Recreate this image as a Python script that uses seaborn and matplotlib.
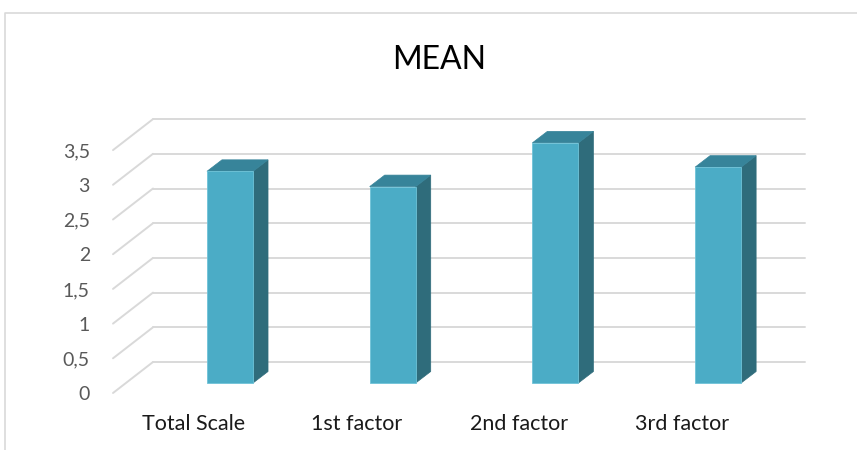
import matplotlib
matplotlib.use("Agg")
import matplotlib.pyplot as plt
import pandas as pd
import seaborn as sns
from matplotlib.patches import Polygon
from matplotlib.lines import Line2D
from matplotlib.transforms import IdentityTransform, ScaledTranslation

# ---- data -------------------------------------------------------------
categories = ["Total Scale", "1st factor", "2nd factor", "3rd factor"]
means = [3.05, 2.83, 3.46, 3.11]
y_ticks = [0, 0.5, 1, 1.5, 2, 2.5, 3, 3.5]
y_tick_labels = ["0", "0,5", "1", "1,5", "2", "2,5", "3", "3,5"]
title = "MEAN"

# ---- style ------------------------------------------------------------
FRONT = "#4BACC6"
SIDE = "#2F6C7B"
TOP = "#37849A"
GRID = "#D9D9D9"

sns.set_theme(style="white")
plt.rcParams["font.family"] = ["Lato", "DejaVu Sans"]

W, H, DPI = 857, 450, 100
fig = plt.figure(figsize=(W / DPI, H / DPI), dpi=DPI)
fig.patch.set_facecolor("white")

# plane of the bar fronts, in pixels measured from the top-left corner
X0_PX, X_UNIT = 230.0, 162.7     # category 0 centre, px per category
Y0_PX, Y_UNIT = 383.0, 69.4      # value 0 baseline, px per unit
left, right, top, bottom = 108, 808, 112, 397

ax = fig.add_axes([left / W, 1 - bottom / H, (right - left) / W, (bottom - top) / H])
ax.set_zorder(5)
ax.patch.set_alpha(0)

df = pd.DataFrame({"category": categories, "mean": means})
sns.barplot(data=df, x="category", y="mean", color=FRONT, saturation=1,
            width=0.283, edgecolor="#6FC3D8", linewidth=0.6, ax=ax, zorder=4)

ax.set_xlim((left - X0_PX) / X_UNIT, (right - X0_PX) / X_UNIT)
ax.set_ylim((Y0_PX - bottom) / Y_UNIT, (Y0_PX - top) / Y_UNIT)
ax.set_xlabel("")
ax.set_ylabel("")
for s in ax.spines.values():
    s.set_visible(False)

# depth offsets (display px, y up): front floor edge, back wall, bar depth
FRONT_OFF = (-13, -10)
BACK_OFF = (27, 21)
BAR_D = (15, 11.5)
WALL_LEFT_X, WALL_RIGHT_X = 126, 805

ident = IdentityTransform()

# back wall gridlines and the receding floor/side lines
for v in y_ticks:
    _, yd = ax.transData.transform((0, v))
    bx = WALL_LEFT_X + BACK_OFF[0]
    by = yd + BACK_OFF[1]
    fig.add_artist(Line2D([bx, WALL_RIGHT_X], [by, by], color=GRID, lw=1.4,
                          transform=ident, zorder=1))
    fig.add_artist(Line2D([WALL_LEFT_X + FRONT_OFF[0], bx], [yd + FRONT_OFF[1], by],
                          color=GRID, lw=1.4, transform=ident, zorder=1))

# side and top faces of each bar (drawn on the figure, beneath the axes)
for bar in ax.patches:
    x0, x1 = bar.get_x(), bar.get_x() + bar.get_width()
    h = bar.get_height()
    (px0, py0), (px1, py1) = ax.transData.transform([(x0, 0), (x1, h)])
    dx, dy = BAR_D
    side = Polygon([(px1, py0), (px1, py1), (px1 + dx, py1 + dy), (px1 + dx, py0 + dy)],
                   closed=True, facecolor=SIDE, edgecolor=SIDE, lw=0.5,
                   transform=ident, zorder=3)
    topf = Polygon([(px0, py1), (px1, py1), (px1 + dx, py1 + dy), (px0 + dx, py1 + dy)],
                   closed=True, facecolor=TOP, edgecolor=TOP, lw=0.5,
                   transform=ident, zorder=3)
    fig.add_artist(side)
    fig.add_artist(topf)

# y tick labels sit on the front floor edge
ax.set_yticks(y_ticks)
ax.set_yticklabels(y_tick_labels)
ax.tick_params(axis="y", length=0, pad=13, labelsize=14, labelcolor="#595959")
for lab in ax.get_yticklabels():
    lab.set_transform(lab.get_transform() + ScaledTranslation(0, -0.10, fig.dpi_scale_trans))

ax.set_xticks(range(len(categories)))
ax.set_xticklabels(categories)
ax.tick_params(axis="x", length=0, pad=12, labelsize=15.5, labelcolor="#1A1A1A")
for lab in ax.get_xticklabels():
    lab.set_transform(lab.get_transform() + ScaledTranslation(-0.36, 0, fig.dpi_scale_trans))

fig.text(439 / W, 1 - 69 / H, title, ha="center", va="baseline", fontsize=23,
         color="black")

# chart frame
fig.add_artist(Line2D([5 / W, 5 / W, 1.01], [-0.01, 1 - 13 / H, 1 - 13 / H],
                      color=GRID, lw=1.2, transform=fig.transFigure))

fig.savefig("out.png", dpi=DPI, facecolor="white")
